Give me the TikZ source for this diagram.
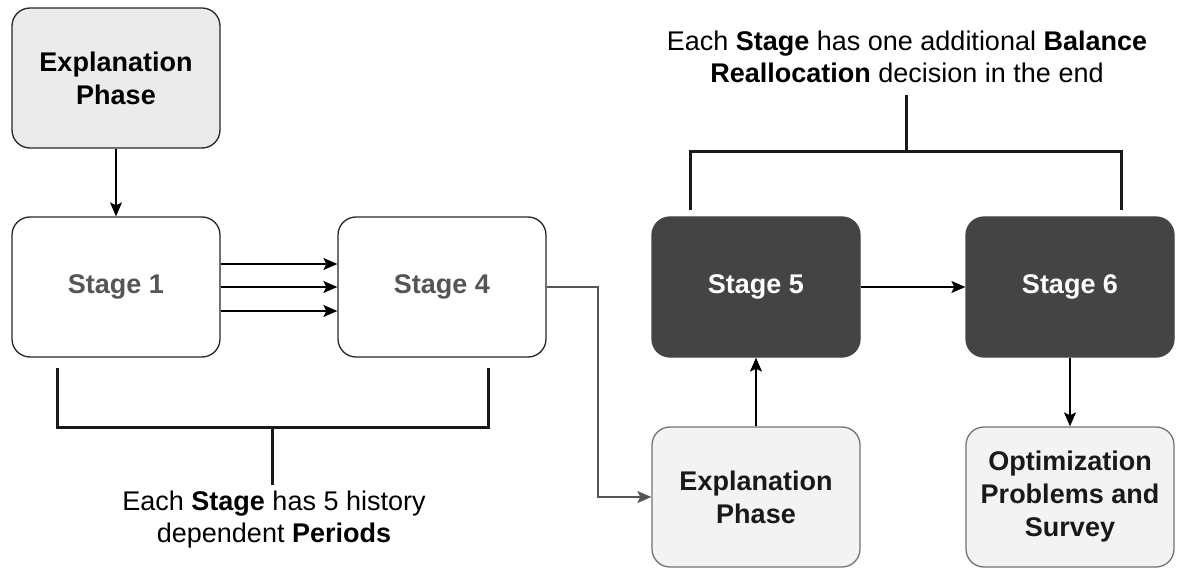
\documentclass[tikz,border=0pt]{standalone}
\usepackage{fontspec}
\setmainfont{Liberation Sans}
\usetikzlibrary{arrows.meta}
\definecolor{darkfill}{HTML}{444444}
\definecolor{lightfill}{HTML}{EBEBEB}
\definecolor{palefill}{HTML}{F3F3F3}
\definecolor{stagegray}{HTML}{555555}
\definecolor{edgegray}{HTML}{555555}
\tikzset{
  box/.style={draw=black!85, line width=1.3pt, rounded corners=18pt, minimum width=208pt, minimum height=140pt, inner sep=0pt, align=center, font=\fontsize{27}{33}\selectfont\bfseries},
  whitebox/.style={box, fill=white, text=stagegray},
  darkbox/.style={box, fill=darkfill, draw=darkfill, text=white},
  graybox/.style={box, fill=lightfill, text=black},
  palebox/.style={box, fill=palefill, draw=black!55, text=black!90},
  arr/.style={line width=1.3pt, -{Stealth[length=14pt,width=12pt,inset=3pt]}},
  brace/.style={line width=3pt, draw=black!90},
  note/.style={align=center, font=\fontsize{27}{32}\selectfont, inner sep=0pt}
}
\begin{document}
\begin{tikzpicture}[x=1pt,y=-1pt]
\useasboundingbox (0,0) rectangle (1178,569);
% nodes
\node[graybox] (exp1) at (116,78) {Explanation\\Phase};
\node[whitebox] (s1) at (116,287) {Stage 1};
\node[whitebox] (s4) at (442,287) {Stage 4};
\node[darkbox] (s5) at (756,287) {Stage 5};
\node[darkbox] (s6) at (1070,287) {Stage 6};
\node[palebox] (exp2) at (756,497) {Explanation\\Phase};
\node[palebox] (opt) at (1070,497) {Optimization\\Problems and\\Survey};
% arrows
\draw[arr] (exp1.south) -- (s1.north);
\draw[arr] (s1.east |- 0,264) -- (s4.west |- 0,264);
\draw[arr] (s1.east) -- (s4.west);
\draw[arr] (s1.east |- 0,311) -- (s4.west |- 0,311);
\coordinate (c1) at (598,287);
\coordinate (c2) at (598,497);
\draw[arr, draw=edgegray] (s4.east) -- (c1) -- (c2) -- (exp2.west);
\draw[arr] (exp2.north) -- (s5.south);
\draw[arr] (s5.east) -- (s6.west);
\draw[arr] (s6.south) -- (opt.north);
% bottom bracket
\coordinate (b1) at (57,368);
\coordinate (b2) at (57,427);
\coordinate (b3) at (488,427);
\coordinate (b4) at (488,368);
\coordinate (bm) at (272,427);
\coordinate (bs) at (272,485);
\draw[brace] (b1) -- (b2) -- (b3) -- (b4);
\draw[brace] (bm) -- (bs);
\node[note] (bnote) at (274,520) {Each \textbf{Stage} has 5 history\\dependent \textbf{Periods}};
% top bracket
\coordinate (t1) at (690,210);
\coordinate (t2) at (690,152);
\coordinate (t3) at (1121,152);
\coordinate (t4) at (1121,210);
\coordinate (tm) at (906,152);
\coordinate (ts) at (906,95);
\draw[brace] (t1) -- (t2) -- (t3) -- (t4);
\draw[brace] (tm) -- (ts);
\node[note] (tnote) at (907,57) {Each \textbf{Stage} has one additional \textbf{Balance}\\\textbf{Reallocation} decision in the end};
\end{tikzpicture}
\end{document}
